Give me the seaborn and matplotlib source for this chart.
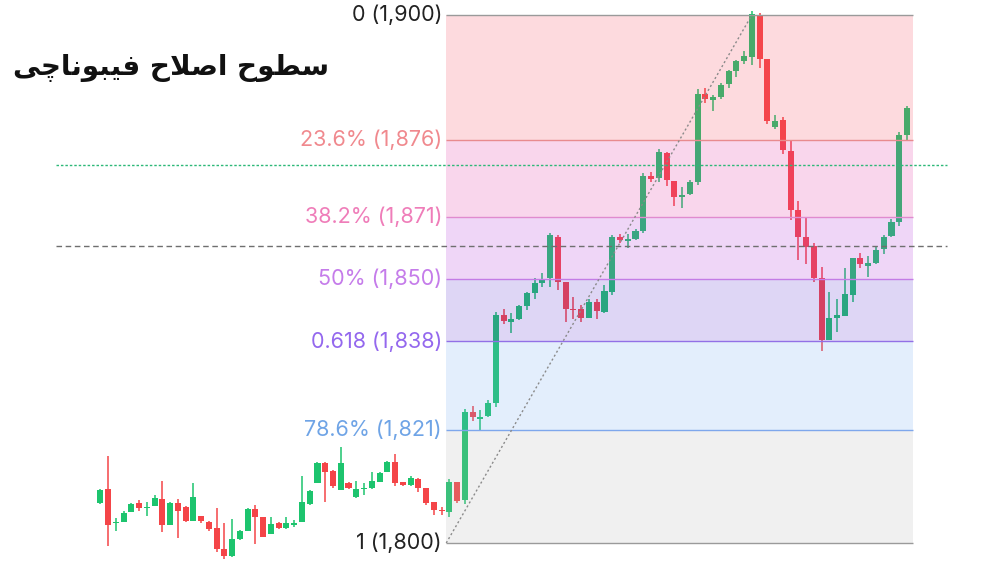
import numpy as np
import matplotlib
matplotlib.use("Agg")
import matplotlib.pyplot as plt
import seaborn as sns

# candle data (open, high, low, close)
opens = [1807.5, 1810.2, 1803.7, 1804.0, 1805.8, 1807.5, 1806.6, 1807.1, 1808.3, 1803.5,
         1807.5, 1806.9, 1804.2, 1805.1, 1804.0, 1802.9, 1798.9, 1797.5, 1800.7, 1802.3,
         1806.4, 1805.0, 1801.7, 1803.7, 1802.8, 1803.4, 1803.9, 1807.4, 1811.3, 1815.1,
         1813.7, 1810.0, 1811.4, 1808.8, 1810.2, 1810.4, 1811.6, 1813.5, 1815.4, 1811.6,
         1810.9, 1812.1, 1810.5, 1807.7, 1806.3, 1805.9, 1811.6, 1808.1, 1824.9, 1823.4,
         1824.0, 1826.6, 1843.2, 1841.9, 1842.4, 1844.9, 1847.3, 1849.3, 1850.1, 1857.9,
         1849.5, 1844.3, 1844.4, 1842.7, 1845.7, 1843.8, 1847.6, 1857.9, 1857.2, 1857.5,
         1859.0, 1869.6, 1869.1, 1873.9, 1868.6, 1865.5, 1866.1, 1868.4, 1885.0, 1883.9,
         1884.5, 1886.9, 1889.4, 1891.3, 1892.1, 1900.0, 1891.7, 1878.7, 1880.1, 1874.3,
         1863.1, 1858.0, 1856.3, 1850.1, 1838.5, 1842.7, 1842.9, 1847.0, 1853.9, 1852.5,
         1853.1, 1855.6, 1858.1, 1860.7, 1877.3]
highs = [1810.2, 1816.4, 1804.7, 1806.1, 1807.5, 1808.2, 1807.8, 1809.1, 1811.8, 1807.8,
         1808.3, 1807.1, 1811.3, 1805.1, 1804.2, 1806.6, 1803.7, 1804.5, 1802.5, 1806.6,
         1807.2, 1805.0, 1805.0, 1803.9, 1804.9, 1804.4, 1812.6, 1810.0, 1815.4, 1815.4,
         1813.8, 1818.1, 1811.6, 1811.7, 1811.3, 1813.5, 1813.5, 1815.6, 1816.9, 1811.6,
         1812.6, 1812.4, 1810.5, 1807.8, 1806.9, 1812.1, 1811.6, 1825.3, 1826.0, 1825.2,
         1827.0, 1843.8, 1844.3, 1843.6, 1845.1, 1847.6, 1850.1, 1851.1, 1858.8, 1858.3,
         1849.5, 1846.5, 1845.1, 1846.3, 1846.3, 1848.9, 1858.3, 1858.6, 1858.6, 1859.4,
         1870.1, 1870.3, 1874.6, 1874.1, 1868.6, 1867.4, 1868.8, 1885.9, 1886.1, 1884.9,
         1887.1, 1889.6, 1891.5, 1893.1, 1900.8, 1900.4, 1891.7, 1881.1, 1880.6, 1876.3,
         1864.7, 1861.5, 1856.8, 1852.3, 1847.6, 1846.2, 1852.0, 1853.9, 1855.0, 1854.4,
         1856.3, 1858.3, 1861.3, 1877.9, 1882.8]
lows = [1807.4, 1799.5, 1802.3, 1803.9, 1805.8, 1806.1, 1805.2, 1807.1, 1802.0, 1803.5,
        1801.0, 1803.9, 1804.2, 1803.7, 1802.3, 1798.2, 1797.0, 1797.4, 1800.6, 1802.3,
        1799.8, 1801.1, 1801.7, 1802.7, 1802.7, 1803.0, 1803.9, 1807.2, 1811.3, 1807.8,
        1810.5, 1810.0, 1810.2, 1808.6, 1809.1, 1810.2, 1811.5, 1813.4, 1810.7, 1810.8,
        1810.7, 1809.7, 1807.2, 1805.3, 1805.3, 1804.9, 1807.5, 1807.4, 1823.1, 1821.4,
        1823.9, 1825.8, 1841.5, 1839.7, 1842.2, 1844.1, 1846.3, 1848.5, 1848.5, 1847.9,
        1841.9, 1842.4, 1841.9, 1842.7, 1842.4, 1843.6, 1847.0, 1856.8, 1855.8, 1857.4,
        1858.7, 1868.4, 1868.3, 1867.6, 1863.8, 1863.4, 1865.9, 1867.8, 1883.3, 1881.8,
        1884.0, 1886.1, 1888.3, 1890.7, 1890.5, 1889.9, 1879.4, 1878.5, 1873.7, 1861.2,
        1853.6, 1852.8, 1849.5, 1836.4, 1838.5, 1840.0, 1842.9, 1845.7, 1852.0, 1850.4,
        1852.8, 1854.7, 1858.0, 1860.0, 1876.3]
closes = [1810.0, 1803.5, 1804.0, 1805.6, 1807.4, 1806.7, 1806.9, 1808.6, 1803.5, 1807.6,
          1806.1, 1804.2, 1808.7, 1804.1, 1802.6, 1798.8, 1797.5, 1800.7, 1802.3, 1806.4,
          1805.0, 1801.2, 1803.6, 1802.8, 1803.7, 1803.7, 1807.8, 1809.9, 1815.2, 1813.5,
          1810.7, 1815.1, 1810.5, 1810.2, 1810.4, 1811.8, 1813.3, 1815.4, 1811.3, 1810.9,
          1812.3, 1810.4, 1807.5, 1806.3, 1806.0, 1811.6, 1808.0, 1824.8, 1823.9, 1823.9,
          1826.5, 1843.1, 1842.1, 1842.4, 1844.8, 1847.3, 1849.3, 1850.0, 1858.3, 1849.5,
          1844.3, 1844.1, 1842.7, 1845.7, 1844.0, 1847.8, 1857.9, 1857.3, 1857.5, 1859.0,
          1869.5, 1868.9, 1874.1, 1868.8, 1865.5, 1866.0, 1868.4, 1885.0, 1884.1, 1884.4,
          1886.7, 1889.3, 1891.2, 1892.2, 1900.2, 1891.6, 1880.0, 1880.0, 1874.4, 1863.0,
          1858.0, 1856.1, 1850.1, 1838.5, 1842.7, 1843.2, 1847.1, 1853.9, 1852.8, 1853.1,
          1855.5, 1858.0, 1860.7, 1877.3, 1882.3]

# fibonacci tool
fib_ratios = [0, 0.236, 0.382, 0.5, 0.618, 0.786, 1]
fib_labels = ["0 (1,900)", "23.6% (1,876)", "38.2% (1,871)", "50% (1,850)",
              "0.618 (1,838)", "78.6% (1,821)", "1 (1,800)"]
fib_high = 1900
fib_low = 1800
fib_x = [44.6, 84]      # swing low -> swing high (candle index)
fib_end = 104.8
green_level = 1871.6
gray_level = 1856.2

title_text = "سطوح اصلاح فیبوناچی"

label_colors = ["#222222", "#F0898E", "#EF7DB9", "#C57CEA", "#9468EE", "#6FA4E6", "#222222"]
line_colors = ["#9a9a9a", "#E88B8E", "#E08BCF", "#C47CE6", "#9270E6", "#7EA7EC", "#9a9a9a"]
band_colors = ["#F5465A", "#E132A0", "#AF32D7", "#5A32CD", "#73AAF0", "#B4B4B4"]

# simple arabic shaping (matplotlib has no text shaping)
FORMS = {
    "س": "\uFEB1\uFEB2\uFEB3\uFEB4", "ط": "\uFEC1\uFEC2\uFEC3\uFEC4",
    "و": "\uFEED\uFEEE", "ح": "\uFEA1\uFEA2\uFEA3\uFEA4", "ا": "\uFE8D\uFE8E",
    "ص": "\uFEB9\uFEBA\uFEBB\uFEBC", "ل": "\uFEDD\uFEDE\uFEDF\uFEE0",
    "ف": "\uFED1\uFED2\uFED3\uFED4", "ی": "\uFBFC\uFBFD\uFBFE\uFBFF",
    "ب": "\uFE8F\uFE90\uFE91\uFE92", "ن": "\uFEE5\uFEE6\uFEE7\uFEE8",
    "چ": "\uFB7A\uFB7B\uFB7C\uFB7D",
}


def shape(word):
    out = []
    i = 0
    while i < len(word):
        c = word[i]
        prev = i > 0 and len(FORMS[word[i - 1]]) == 4
        if c == "ل" and i + 1 < len(word) and word[i + 1] == "ا":
            out.append("\uFEFC" if prev else "\uFEFB")
            i += 2
            continue
        nxt = i + 1 < len(word) and len(FORMS[c]) == 4
        out.append(FORMS[c][(1 if prev else 0) + (2 if nxt else 0)])
        i += 1
    return "".join(out)


sns.set_style("white")
fig = plt.figure(figsize=(10, 5.62), dpi=100)
ax = fig.add_axes([0, 0, 1, 1])

x = np.arange(len(opens))
o = np.array(opens)
c = np.array(closes)
up = c >= o
cols = np.where(up, "#1DC46E", "#F44548")
bottom = np.minimum(o, c)
height = np.maximum(np.abs(c - o), 0.25)

ax.vlines(x, lows, highs, colors=cols, lw=1.1, zorder=2)
ax.bar(x, height, bottom=bottom, width=0.78, color=cols, lw=0, zorder=2)

levels = [fib_high - r * (fib_high - fib_low) for r in fib_ratios]
for i in range(len(levels) - 1):
    ax.fill_between([fib_x[0], fib_end], levels[i + 1], levels[i],
                    color=band_colors[i], alpha=0.2, lw=0, zorder=3)
ax.hlines(levels, fib_x[0], fib_end, colors=line_colors, lw=1.0, zorder=4)

for lv, lab, col in zip(levels, fib_labels, label_colors):
    ax.annotate(lab, (fib_x[0], lv), xytext=(-3, 0), textcoords="offset points",
                ha="right", va="center", fontsize=15.5, color=col, family="Inter")

sns.lineplot(x=fib_x, y=[fib_low, fib_high], ax=ax, color="#8a8a8a", lw=1.0,
             linestyle=(0, (1.5, 1.8)), zorder=5)

ax.axhline(green_level, xmin=0.056, xmax=0.947, color="#2DB878", lw=1.0,
           linestyle=(0, (1.8, 1.4)), zorder=4)
ax.axhline(gray_level, xmin=0.056, xmax=0.947, color="#6f6f6f", lw=1.0,
           linestyle=(0, (4, 2.6)), zorder=4)

shaped = " ".join(shape(w) for w in title_text.split())[::-1]
fig.text(0.329, 0.879, shaped, ha="right", va="center", fontsize=20,
         fontweight="bold", color="#111111", family="DejaVu Sans")

ax.set_xlim(-12.93, 115.99)
ax.set_ylim(1796.40, 1902.84)
ax.axis("off")

fig.savefig("out.png", dpi=100)
